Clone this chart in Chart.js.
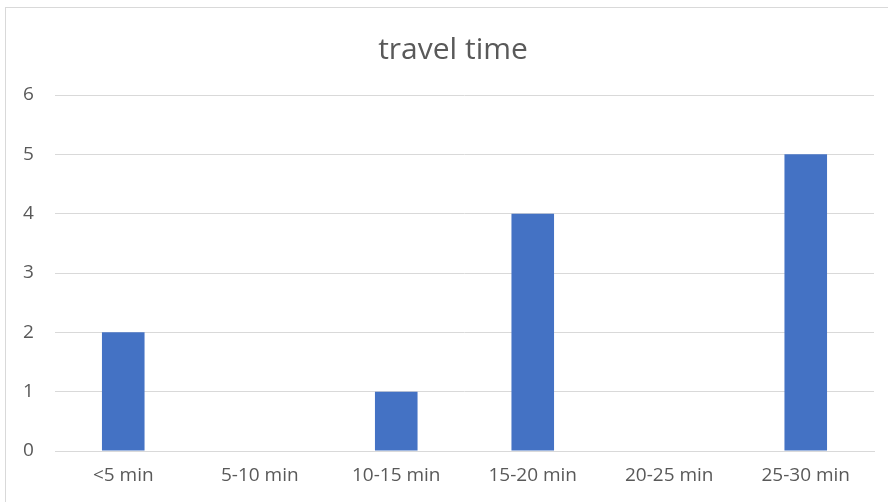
<!DOCTYPE html>
<html>
<head>
<meta charset="utf-8">
<script src="https://cdn.jsdelivr.net/npm/chart.js@4/dist/chart.umd.min.js"></script>
<style>
  html, body { margin: 0; padding: 0; background: #fff; }
  body { width: 888px; height: 502px; position: relative; overflow: hidden; font-family: "Open Sans", "Noto Sans", sans-serif; }
  #frame { position: absolute; left: 5px; top: 7px; width: 900px; height: 520px; border: 1px solid #d9d9d9; box-sizing: border-box; }
  #wrap { position: absolute; left: 0; top: 0; width: 888px; height: 502px; }
</style>
</head>
<body>
<div id="frame"></div>
<div id="wrap"><canvas id="chart" width="888" height="502"></canvas></div>
<script>
// categories and counts
const categories = ["<5 min", "5-10 min", "10-15 min", "15-20 min", "20-25 min", "25-30 min"];
const counts = [2, 0, 1, 4, 0, 5];
const yTicks = [0, 1, 2, 3, 4, 5, 6];

const textColor = "#595959";
const gridColor = "#d9d9d9";

new Chart(document.getElementById("chart"), {
  type: "bar",
  data: {
    labels: categories,
    datasets: [{
      data: counts,
      backgroundColor: "#4472c4",
      barPercentage: 0.312,
      categoryPercentage: 1
    }]
  },
  options: {
    responsive: false,
    animation: false,
    // left padding moves the title centre; mirrored y labels are pushed back left
    layout: { padding: { left: 32, right: 14, top: 0, bottom: 0 } },
    plugins: {
      legend: { display: false },
      tooltip: { enabled: false },
      title: {
        display: true,
        text: "travel time",
        color: textColor,
        font: { family: "Open Sans", size: 30, weight: "normal" },
        padding: { top: 32, bottom: 27 }
      }
    },
    scales: {
      x: {
        grid: { display: false, drawTicks: false },
        border: { display: true, color: gridColor },
        ticks: { color: textColor, font: { family: "Open Sans", size: 19 }, padding: 13, maxRotation: 0, autoSkip: false },
        afterFit: s => { s.height = 51; }
      },
      y: {
        min: 0,
        max: 6,
        grid: { color: gridColor, drawTicks: false },
        border: { display: false },
        afterBuildTicks: s => { s.ticks = yTicks.map(v => ({ value: v })); },
        ticks: { color: textColor, font: { family: "Open Sans", size: 19 }, mirror: true, padding: -32 },
        afterFit: s => { s.width = 23; }
      }
    }
  }
});
</script>
</body>
</html>
